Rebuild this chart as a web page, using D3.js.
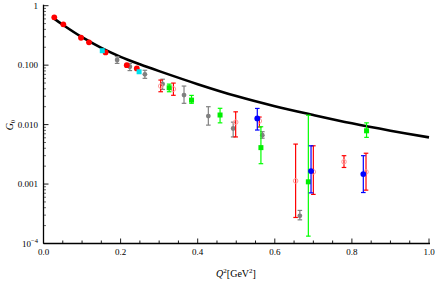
<!DOCTYPE html>
<html>
<head>
<meta charset="utf-8">
<script src="https://cdn.jsdelivr.net/npm/d3@7"></script>
<style>
body { margin: 0; background: #fff; }
text { font-family: "Liberation Serif", "DejaVu Serif", serif; }
</style>
</head>
<body>
<svg width="436" height="282"></svg>
<script>
// theory curve
var curveQ = [0.024, 0.05, 0.1, 0.15, 0.2, 0.25, 0.3, 0.4, 0.5, 0.6, 0.7, 0.8, 0.9, 1.0];
var curveG = [0.631, 0.479, 0.295, 0.195, 0.138, 0.1035, 0.0794, 0.0479, 0.0302, 0.0204, 0.0145, 0.0105, 0.0079, 0.0061];

// data sets
var redQ = [0.028, 0.0514, 0.0973, 0.118, 0.161, 0.216, 0.242];
var redG = [0.638, 0.486, 0.289, 0.242, 0.164, 0.100, 0.088];
var redLo = [0.62, 0.47, 0.28, 0.235, 0.158, 0.094, 0.082];
var redHi = [0.656, 0.50, 0.298, 0.249, 0.170, 0.106, 0.094];

var cyanQ = [0.1525, 0.248];
var cyanG = [0.175, 0.0774];

var grayQ = [0.191, 0.224, 0.263, 0.309, 0.3645, 0.4276, 0.492, 0.5676, 0.665];
var grayG = [0.122, 0.094, 0.070, 0.048, 0.0314, 0.0139, 0.0086, 0.00665, 0.000292];
var grayLo = [0.107, 0.081, 0.060, 0.039, 0.0228, 0.0098, 0.0062, 0.0059, 0.00025];
var grayHi = [0.139, 0.107, 0.082, 0.058, 0.0445, 0.020, 0.011, 0.0076, 0.00036];

var greenQ = [0.326, 0.384, 0.458, 0.564, 0.687, 0.838];
var greenG = [0.0417, 0.0258, 0.0145, 0.0041, 0.00109, 0.00787];
var greenLo = [0.0357, 0.0228, 0.0107, 0.0022, 0.000133, 0.0061];
var greenHi = [0.048, 0.031, 0.0188, 0.0092, 0.0144, 0.0107];

var blueQ = [0.5546, 0.694, 0.8296];
var blueG = [0.0127, 0.00165, 0.00147];
var blueLo = [0.0081, 0.00071, 0.00072];
var blueHi = [0.0187, 0.0044, 0.0030];

var openQ = [0.304, 0.337, 0.4985, 0.560, 0.654, 0.700, 0.7795, 0.8366];
var openG = [0.0445, 0.0396, 0.011, 0.0115, 0.00113, 0.0016, 0.00237, 0.0016];
var openLo = [0.0357, 0.0311, 0.0062, 0.0091, 0.000274, 0.00067, 0.0019, 0.00079];
var openHi = [0.0561, 0.0499, 0.0164, 0.0134, 0.0047, 0.0044, 0.0030, 0.0033];

var xTicks = [0, 0.2, 0.4, 0.6, 0.8, 1.0];
var yTicks = [1e-4, 1e-3, 1e-2, 1e-1, 1];
var yLabels = ["10^-4", "0.001", "0.010", "0.100", "1"];

var svg = d3.select("svg");

var x = d3.scaleLinear().domain([0, 1]).range([43.5, 429]);
var y = d3.scaleLog().domain([1e-4, 1]).range([243.5, 5.7]);

function zip(q, g, lo, hi) {
  return q.map(function (d, i) {
    return { q: d, g: g[i], lo: lo ? lo[i] : null, hi: hi ? hi[i] : null };
  });
}

// curve
svg.append("path")
  .datum(zip(curveQ, curveG))
  .attr("fill", "none")
  .attr("stroke", "#000")
  .attr("stroke-width", 2.6)
  .attr("d", d3.line().x(d => x(d.q)).y(d => y(d.g)).curve(d3.curveCatmullRom.alpha(0.5)));

function errBars(data, color, cap) {
  var g = svg.append("g").attr("stroke", color).attr("stroke-width", 1.2).attr("fill", "none");
  data.forEach(function (d) {
    var cx = x(d.q);
    g.append("line").attr("x1", cx).attr("x2", cx).attr("y1", y(d.lo)).attr("y2", y(d.hi));
    g.append("line").attr("x1", cx - cap).attr("x2", cx + cap).attr("y1", y(d.lo)).attr("y2", y(d.lo));
    g.append("line").attr("x1", cx - cap).attr("x2", cx + cap).attr("y1", y(d.hi)).attr("y2", y(d.hi));
  });
}

function circles(data, r, fill, stroke) {
  svg.append("g").selectAll("circle")
    .data(data).enter().append("circle")
    .attr("cx", d => x(d.q))
    .attr("cy", d => y(d.g))
    .attr("r", r)
    .attr("fill", fill)
    .attr("stroke", stroke || "none")
    .attr("stroke-width", 1);
}

function squares(data, s, fill) {
  svg.append("g").selectAll("rect")
    .data(data).enter().append("rect")
    .attr("x", d => x(d.q) - s / 2)
    .attr("y", d => y(d.g) - s / 2)
    .attr("width", s)
    .attr("height", s)
    .attr("fill", fill);
}

var red = zip(redQ, redG, redLo, redHi);
var cyan = zip(cyanQ, cyanG);
var gray = zip(grayQ, grayG, grayLo, grayHi);
var green = zip(greenQ, greenG, greenLo, greenHi);
var blue = zip(blueQ, blueG, blueLo, blueHi);
var open = zip(openQ, openG, openLo, openHi);

errBars(gray, "#808080", 2.3);
circles(gray, 2.4, "#808080");
errBars(open, "#ff0000", 2.3);
circles(open, 2.3, "none", "#ff9999");
errBars(red, "#ff0000", 1.8);
circles(red, 2.9, "#ff0000");
squares(cyan, 5, "#00e0ee");
errBars(green, "#00ff00", 2.3);
squares(green, 5, "#00ee00");
errBars(blue, "#0000ff", 2.3);
circles(blue, 2.9, "#0000ff");

// axes
var ax = svg.append("g").attr("stroke", "#000");
ax.append("line").attr("x1", 43.5).attr("x2", 43.5).attr("y1", y(1) - 1).attr("y2", 243.5).attr("stroke-width", 1.3);
ax.append("line").attr("x1", 43.5).attr("x2", 430).attr("y1", 243.5).attr("y2", 243.5).attr("stroke-width", 1.3);

// x ticks (major + minor), pointing inward
d3.range(0, 1.0001, 0.05).forEach(function (v) {
  var major = Math.abs(v * 5 - Math.round(v * 5)) < 1e-6;
  ax.append("line").attr("x1", x(v)).attr("x2", x(v))
    .attr("y1", 243.5).attr("y2", 243.5 - (major ? 5 : 3)).attr("stroke-width", 0.9);
});

// y ticks
yTicks.forEach(function (v, i) {
  ax.append("line").attr("x1", 43.5).attr("x2", 48.5).attr("y1", y(v)).attr("y2", y(v)).attr("stroke-width", 0.9);
  if (i < yTicks.length - 1) {
    for (var k = 2; k < 10; k++) {
      ax.append("line").attr("x1", 43.5).attr("x2", 46).attr("y1", y(v * k)).attr("y2", y(v * k)).attr("stroke-width", 0.6);
    }
  }
});

svg.append("g").selectAll("text")
  .data(xTicks).enter().append("text")
  .attr("x", d => x(d))
  .attr("y", 255)
  .attr("text-anchor", "middle")
  .attr("font-size", 9)
  .text(d => d.toFixed(1));

yLabels.forEach(function (lab, i) {
  var t = svg.append("text")
    .attr("x", 38)
    .attr("y", y(yTicks[i]) + 3)
    .attr("text-anchor", "end")
    .attr("font-size", 9);
  if (lab.indexOf("^") > 0) {
    var parts = lab.split("^");
    t.append("tspan").text(parts[0]);
    t.append("tspan").attr("dy", -4).attr("font-size", 6.5).text(parts[1].replace("-", "\u2212"));
  } else {
    t.text(lab);
  }
});

// axis titles
var yt = svg.append("text")
  .attr("transform", "translate(13,125) rotate(-90)")
  .attr("text-anchor", "middle")
  .attr("font-size", 10);
yt.append("tspan").attr("font-style", "italic").text("G");
yt.append("tspan").attr("dy", 2).attr("font-size", 7).text("0");

var xt = svg.append("text")
  .attr("x", 236)
  .attr("y", 277)
  .attr("text-anchor", "middle")
  .attr("font-size", 10);
xt.append("tspan").attr("font-style", "italic").text("Q");
xt.append("tspan").attr("dy", -4).attr("font-size", 7).text("2");
xt.append("tspan").attr("dy", 4).text("[GeV");
xt.append("tspan").attr("dy", -4).attr("font-size", 7).text("2");
xt.append("tspan").attr("dy", 4).text("]");
</script>
</body>
</html>
